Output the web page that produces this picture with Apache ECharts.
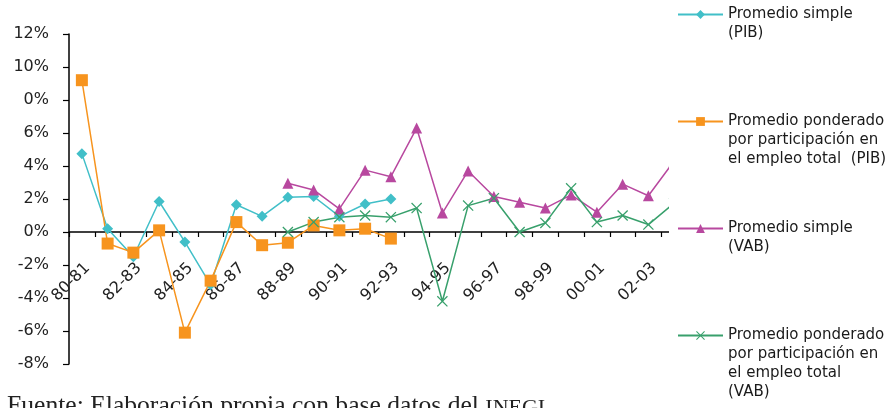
<!DOCTYPE html>
<html>
<head>
<meta charset="utf-8">
<script src="https://cdn.jsdelivr.net/npm/echarts@6/dist/echarts.min.js"></script>
<style>
  html, body { margin: 0; padding: 0; background: #fff; }
  #chart { width: 890px; height: 408px; }
</style>
</head>
<body>
<div id="chart"></div>
<script>
// Periods (fiscal pairs of years)
const periods = ['80-81','81-82','82-83','83-84','84-85','85-86','86-87','87-88','88-89','89-90',
                 '90-91','91-92','92-93','93-94','94-95','95-96','96-97','97-98','98-99','99-00',
                 '00-01','01-02','02-03','03-04'];

// Growth rates, percent
const pibSimple    = [4.75, 0.2, -1.5, 1.85, -0.6, -3.2, 1.65, 0.95, 2.1, 2.15, 0.95, 1.7, 2.0,
                      null, null, null, null, null, null, null, null, null, null, null];
const pibPonderado = [9.2, -0.7, -1.25, 0.1, -6.1, -2.95, 0.6, -0.8, -0.65, 0.4, 0.1, 0.2, -0.4,
                      null, null, null, null, null, null, null, null, null, null, null];
const vabSimple    = [null, null, null, null, null, null, null, null,
                      2.95, 2.55, 1.4, 3.75, 3.35, 6.3, 1.15, 3.7, 2.15, 1.8, 1.45, 2.25, 1.2, 2.9, 2.2, 4.3];
const vabPonderado = [null, null, null, null, null, null, null, null,
                      0.0, 0.6, 0.9, 1.0, 0.9, 1.45, -4.2, 1.6, 2.05, 0.0, 0.55, 2.65, 0.6, 1.0, 0.45, 1.75];

// Value axis tick labels, from -8 to 12 in steps of 2
const yTickLabels = ['-8%', '-6%', '-4%', '-2%', '0%', '2%', '4%', '6%', '0%', '10%', '12%'];
const yMin = -8, yMax = 12, yStep = 2;

// Series names and the lines shown for each in the legend
const seriesNames = [
  'Promedio simple (PIB)',
  'Promedio ponderado por participación en el empleo total (PIB)',
  'Promedio simple (VAB)',
  'Promedio ponderado por participación en el empleo total (VAB)'
];
const legendLines = [
  ['Promedio simple', '(PIB)'],
  ['Promedio ponderado', 'por participación en', 'el empleo total  (PIB)'],
  ['Promedio simple', '(VAB)'],
  ['Promedio ponderado', 'por participación en', 'el empleo total', '(VAB)']
];
// every legend entry gets an odd number of rows so its marker sits beside the first line
const legendRows = [3, 7, 3, 7];

const crossSymbol = 'path://M0,0.8L0.8,0L5,4.2L9.2,0L10,0.8L5.8,5L10,9.2L9.2,10L5,5.8L0.8,10L0,9.2L4.2,5Z';

const colors = ['#41BFC8', '#F7941E', '#B8489F', '#38A06C'];

const grid = { left: 69, right: 203, top: 34, bottom: 44 };
const chartHeight = 408;

function legendLabel(name) {
  const i = seriesNames.indexOf(name);
  const lines = legendLines[i];
  const before = (legendRows[i] - 1) / 2;
  const after = legendRows[i] - before - lines.length;
  const out = [];
  for (let k = 0; k < before; k++) out.push('');
  lines.forEach(l => out.push(l));
  for (let k = 0; k < after; k++) out.push('');
  return out.join('\n');
}

function lineSeries(idx, data, symbol, size) {
  return {
    name: seriesNames[idx],
    type: 'line',
    data: data,
    symbol: symbol,
    symbolSize: size,
    connectNulls: false,
    lineStyle: { width: 1.5, color: colors[idx] },
    itemStyle: { color: colors[idx] },
    emphasis: { disabled: true }
  };
}

const chart = echarts.init(document.getElementById('chart'), null, { renderer: 'canvas' });
chart.setOption({
  animation: false,
  backgroundColor: '#fff',
  textStyle: { fontFamily: 'DejaVu Sans' },
  grid: Object.assign({ containLabel: false, outerBoundsMode: 'none' }, grid),
  xAxis: {
    type: 'category',
    data: periods,
    boundaryGap: true,
    position: 'bottom',
    offset: 0,
    axisLine: { onZero: false, lineStyle: { color: '#000', width: 1.5 } },
    axisTick: { show: true, interval: 0, inside: false, length: 5, lineStyle: { color: '#000', width: 1.2 } },
    axisLabel: {
      interval: 1,
      rotate: 45,
      margin: 28,
      align: 'right',
      verticalAlign: 'top',
      fontSize: 16,
      color: '#222',
      fontFamily: 'DejaVu Sans'
    },
    splitLine: { show: false }
  },
  yAxis: {
    type: 'value',
    min: yMin,
    max: yMax,
    interval: yStep,
    axisLine: { show: true, lineStyle: { color: '#000', width: 1.5 } },
    axisTick: { show: true, inside: false, length: 6, lineStyle: { color: '#000', width: 1.2 } },
    axisLabel: {
      margin: 20,
      fontSize: 16,
      color: '#222',
      fontFamily: 'DejaVu Sans',
      formatter: v => yTickLabels[Math.round((v - yMin) / yStep)]
    },
    splitLine: { show: false }
  },
  legend: {
    orient: 'vertical',
    left: 669,
    top: -14,
    height: 470,
    padding: [0, 4, 0, 8],
    itemGap: 12,
    itemWidth: 45,
    itemHeight: 11,
    backgroundColor: '#fff',
    selectedMode: false,
    data: seriesNames,
    formatter: legendLabel,
    textStyle: { fontFamily: 'DejaVu Sans', fontSize: 15, lineHeight: 19, color: '#1a1a1a' }
  },
  graphic: [{
    type: 'text',
    left: 7,
    top: 393,
    silent: true,
    style: {
      text: '{a|Fuente: Elaboración propia con base datos del }{b|INEGI}',
      rich: {
        a: { fontFamily: 'Liberation Serif', fontSize: 25.6, fill: '#222', verticalAlign: 'bottom' },
        b: { fontFamily: 'Liberation Serif', fontSize: 22, fill: '#222', verticalAlign: 'bottom' }
      }
    }
  }],
  series: [
    lineSeries(0, pibSimple, 'diamond', 11),
    lineSeries(1, pibPonderado, 'rect', 12),
    lineSeries(2, vabSimple, 'triangle', 11),
    lineSeries(3, vabPonderado, crossSymbol, 11)
  ]
});

// Put the category axis on the zero line, labels included
for (let pass = 0; pass < 3; pass++) {
  const zeroY = chart.convertToPixel({ yAxisIndex: 0 }, 0);
  const bottomY = chart.convertToPixel({ yAxisIndex: 0 }, yMin);
  const current = chart.getOption().xAxis[0].offset || 0;
  chart.setOption({ xAxis: { offset: current - (bottomY - zeroY) - current } });
}
</script>
</body>
</html>
